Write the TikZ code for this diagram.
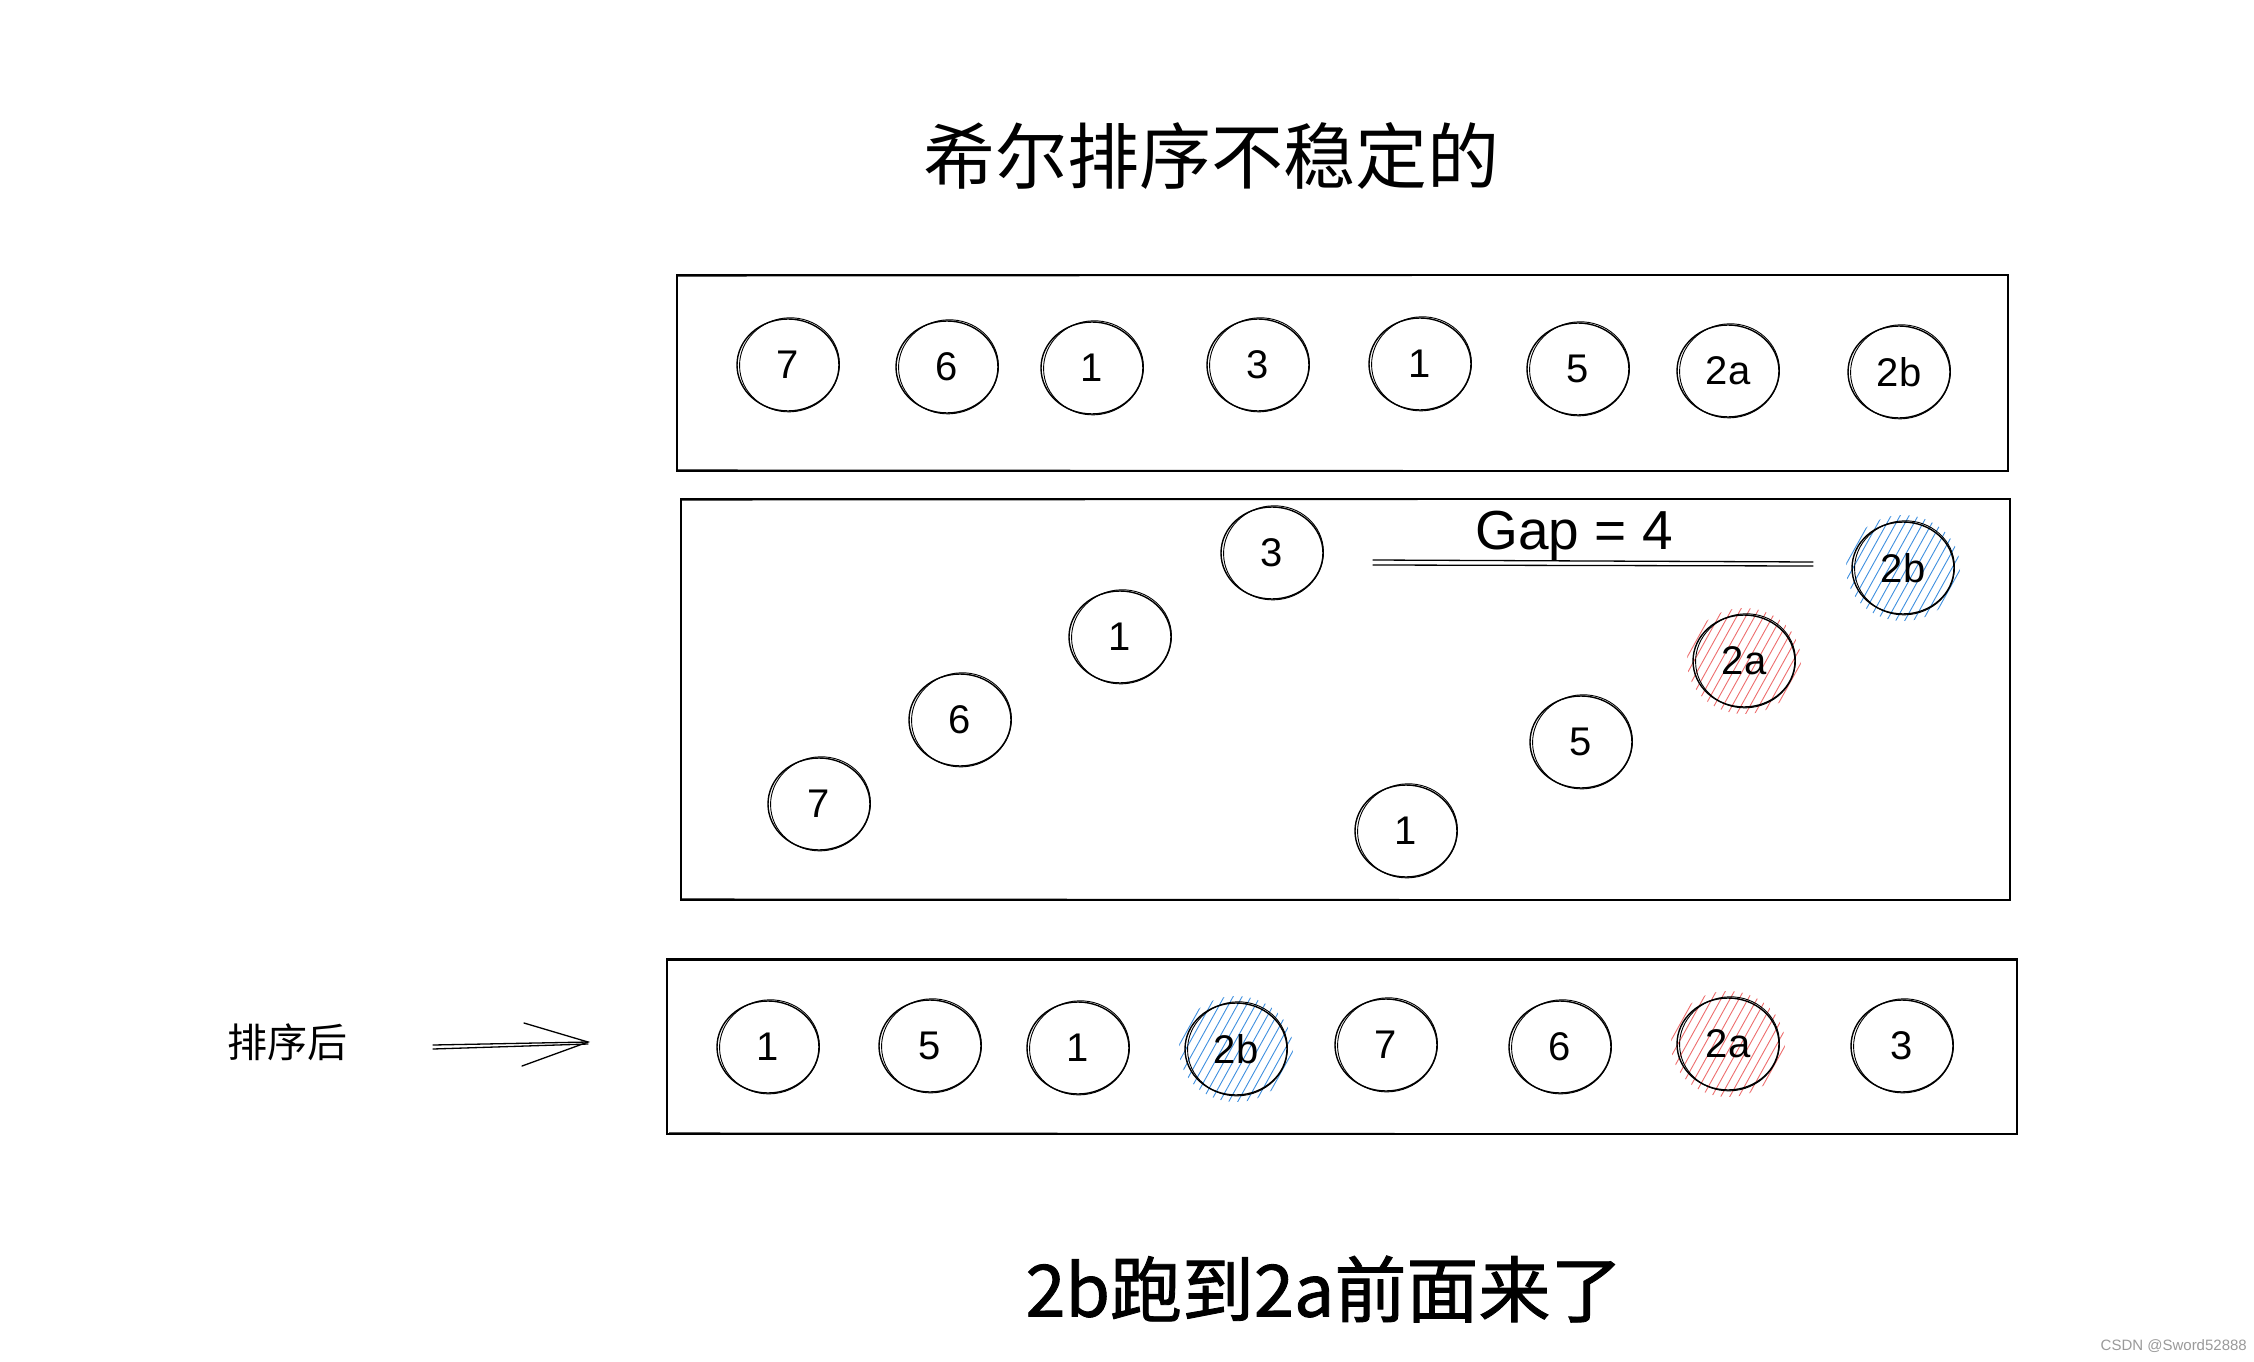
\documentclass[tikz,border=0pt]{standalone}
\usepackage{fontspec}
\setmainfont{Liberation Sans}
\newfontfamily\cjk{Noto Sans CJK SC}
\newfontfamily\cjkm[FakeBold=1.2]{Noto Sans CJK SC}
\usetikzlibrary{shapes.geometric}
\definecolor{hred}{HTML}{EE6E6E}
\definecolor{hblue}{HTML}{3F90E0}
\definecolor{wmgray}{HTML}{9A9A9A}
\tikzset{
  ball/.style={ellipse, draw, line width=1.4pt, minimum width=102pt, minimum height=92pt, inner sep=0pt, font=\fontsize{40}{48}\selectfont},
  ballsk/.style={line width=0.9pt},
  boxstyle/.style={draw, line width=1.8pt, inner sep=0pt},
  boxsk/.style={line width=0.9pt},
  hatchline/.style={line width=0.9pt},
  sketchline/.style={line width=1.3pt, line cap=round},
}
\newcommand\ball[4]{%
  \node[ball] (#1) at (#2,#3) {#4};
  \draw[ballsk, rotate around={7:(#1.center)}] ([xshift=1.5pt]#1.center) ellipse [x radius=50pt, y radius=47pt];
}
\newcommand\hball[5]{%
  \begin{scope}[shift={(#2,#3)}]
    \clip (0,0) ellipse [x radius=57pt, y radius=53pt];
    \foreach \i in {-140,-131,...,140} \draw[hatchline, #5] (\i-30,54) -- (\i+30,-54);
  \end{scope}
  \ball{#1}{#2}{#3}{#4}
}
\begin{document}
\begin{tikzpicture}[x=1pt, y=-1pt]
\useasboundingbox (0,0) rectangle (2254,1362);
\fill[white] (0,0) rectangle (2254,1362);

% title
\node (title) at (1211,156) {\cjk\fontsize{72}{80}\selectfont 希尔排序不稳定的};

% boxes
\node[boxstyle, minimum width=1331pt, minimum height=196pt] (topbox) at (1342.5,373) {};
\draw[boxsk] ([xshift=2pt,yshift=-2pt]topbox.north west) -- ([yshift=-1pt]topbox.north east);
\draw[boxsk] ([yshift=2pt]topbox.south west) -- ([xshift=-2pt,yshift=1pt]topbox.south east);

\node[boxstyle, minimum width=1329pt, minimum height=401pt] (midbox) at (1345.5,699.5) {};
\draw[boxsk] ([yshift=-2pt]midbox.north west) -- ([yshift=-1pt]midbox.north east);
\draw[boxsk] ([yshift=2pt]midbox.south west) -- ([xshift=-1pt,yshift=1pt]midbox.south east);

\node[boxstyle, minimum width=1350pt, minimum height=175pt] (botbox) at (1342,1046.5) {};
\draw[boxsk] ([xshift=2pt,yshift=-2pt]botbox.north west) -- ([yshift=-2pt]botbox.north east);
\draw[boxsk] ([xshift=3pt,yshift=2pt]botbox.south west) -- ([yshift=1pt]botbox.south east);

% top row
\ball{t1}{788}{365}{7}
\ball{t2}{947}{367}{6}
\ball{t3}{1092}{368}{1}
\ball{t4}{1258}{365}{3}
\ball{t5}{1420}{364}{1}
\ball{t6}{1578}{369}{5}
\ball{t7}{1728}{371}{2a}
\ball{t8}{1899}{372}{2b}

% middle
\ball{m1}{1272}{553}{3}
\ball{m2}{1120}{637}{1}
\ball{m3}{960}{720}{6}
\ball{m4}{819}{804}{7}
\ball{m5}{1406}{831}{1}
\ball{m6}{1581}{742}{5}
\hball{m7}{1744}{661}{2a}{hred}
\hball{m8}{1903}{568}{2b}{hblue}

\node[font=\fontsize{55}{60}\selectfont] (gap) at (1574,536) {Gap = 4};
\coordinate (g1) at (1373,560);
\coordinate (g2) at (1813,562);
\coordinate (g3) at (1373,565);
\coordinate (g4) at (1813,566);
\draw[sketchline] (g1) -- (g2);
\draw[sketchline] (g3) -- (g4);

% bottom row
\ball{b1}{768}{1047}{1}
\ball{b2}{930}{1046}{5}
\ball{b3}{1078}{1048}{1}
\hball{b4}{1236}{1049}{2b}{hblue}
\ball{b5}{1386}{1045}{7}
\ball{b6}{1560}{1047}{6}
\hball{b7}{1728}{1044}{2a}{hred}
\ball{b8}{1902}{1046}{3}

% after label and arrow
\node (after) at (287,1042) {\cjk\fontsize{40}{48}\selectfont 排序后};
\coordinate (a1) at (433,1045);
\coordinate (a2) at (433,1049);
\coordinate (tip) at (588,1042);
\coordinate (h1) at (524,1023);
\coordinate (h2) at (522,1066);
\draw[sketchline] (a1) -- (tip);
\draw[sketchline] (a2) -- ([yshift=-2pt]tip);
\draw[sketchline] (h1) -- (tip) -- (h2);

% caption
\node (caption) at (1324,1289) {\cjkm\fontsize{72}{80}\selectfont 2b跑到2a前面来了};

% watermark
\node[anchor=east, text=wmgray, font=\fontsize{15}{18}\selectfont, inner sep=0pt] (wm) at (2247,1346) {CSDN @Sword52888};
\end{tikzpicture}
\end{document}
